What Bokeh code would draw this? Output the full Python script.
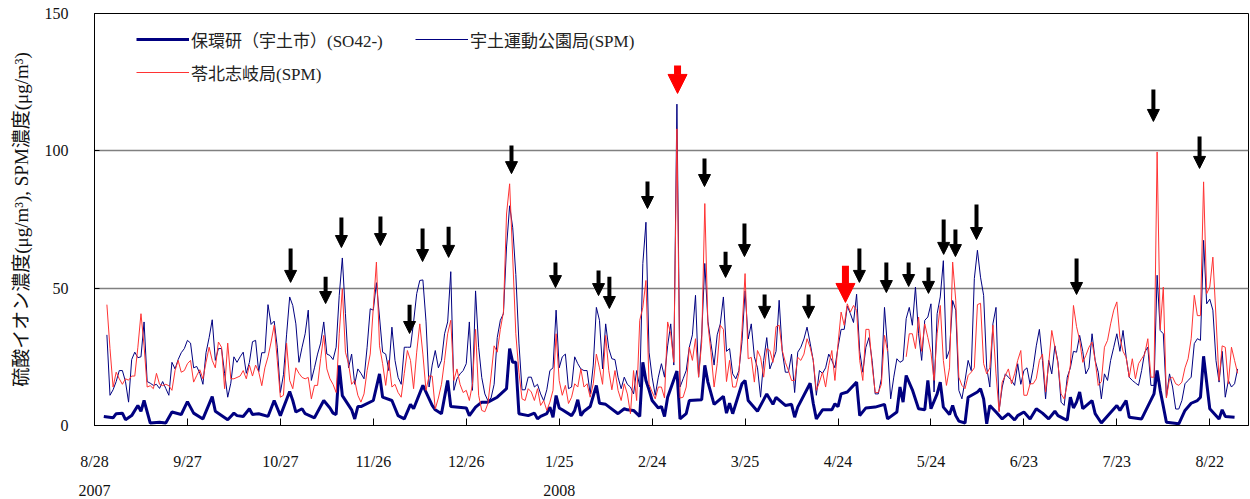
import numpy as np
from bokeh.plotting import figure
from bokeh.models import (Range1d, FixedTicker, LinearAxis, ColumnDataSource, Arrow,
                          NormalHead, Legend, LegendItem)
from bokeh.embed import file_html
from bokeh.resources import INLINE

nan = float("nan")

# ---------------- data ----------------
# x axis: days since 2007-08-28
tick_days = [0, 30, 60, 90, 120, 150, 180, 210, 240, 270, 300, 330, 360]
tick_labels = ["8/28", "9/27", "10/27", "11/26", "12/26", "1/25", "2/24",
               "3/25", "4/24", "5/24", "6/23", "7/23", "8/22"]
year_days = [0, 150]
year_labels = ["2007", "2008"]

series_names = ["保環研（宇土市）(SO42-)", "宇土運動公園局(SPM)", "苓北志岐局(SPM)"]

# daily SPM series start on day 4 (2007-08-31 .. 2008-08-31)
spm_first_day = 4

uto_spm = [
    33, 11, 13, 16, 20, 20, 16, 8.5, 24, 26.7,
    24.7, 25, 37.7, 16, 15.4, 14.6, 15, 13.5, 16, 13.5,
    11, 23, 20.6, 24, 26.5, 28, 31, 30, 21, 21.5,
    19, 15, 26.5, 32, 38.5, 23.7, 28, 28, 19, 10.3,
    15.4, 25, 23, 25, 26.7, 19, 23, 30.5, 31, 19.5,
    26.5, 26.5, 44, 36.8, 38, 28.5, 12, 18.5, 33, 46.8,
    43.7, 37, 23, 28.5, 33.4, 42, 16.4, 21, 26, 30,
    37.7, 26, 25.5, 24, 28.5, 47.4, 61, 40.7, 21, 26,
    15, 20.6, 19, 17, 28.5, 42.5, 42, 52, 39.5, 26.7,
    26, 20, 35.8, 23.7, 17.5, 15, 28.5, 28.5, 28.5, 37.7,
    48, 52.8, 53, 38, 14, 22, 27.3, 21, 23.7, 33.4,
    37.7, 56, 12.8, 17, 18.8, 20, 22.5, 37.7, 12.8, 49,
    28.5, 17.5, 11.5, 9, 10, 15, 32, 38.3, 40.7, 65,
    80, 72, 55, 30, 13, 13, 17.6, 17.6, 14, 15,
    11.5, 9, 13, 20, 21, 42, 21, 25, 26, 13.4,
    14, 25, 22.5, 20.6, 20, 20, 11.5, 22, 43, 38.3,
    20.6, 37, 28, 24.3, 24, 17.6, 13.4, 17.6, 15, 14,
    11.5, 20, 14, 59, 74, 26.7, 17.6, 11, 17.6, 22.5,
    17.6, 29, 37, 22, 117, 14, 17, 20, 28.5, 33,
    47.4, 17.6, 33, 59, 38, 29.8, 22, 33, 37, 46.8,
    27, 28, 18.8, 17, 20, 30.5, 49, 31.5, 37, 25,
    21, 10.3, 23.7, 32, 20.6, 23.7, 27, 45.6, 27, 19.4,
    19.4, 26, 12, 26.7, 28.5, 31.5, 35.8, 30, 23.7, 11,
    20, 19, 21, 26, 23.7, 21, 28.5, 35, 35, 43.5,
    40.7, 37.5, 47.8, 27, 19.4, 28.5, 32, 23.7, 11.5, 11.5,
    17, 43, 28, 9.7, 17.6, 24.3, 23, 23.7, 38.9, 43,
    36.5, 50.4, 33.4, 23.7, 38.3, 39.5, 44.3, 12.2, 40.7, 46.8,
    60, 24.3, 27.5, 45.5, 42, 12.8, 9.7, 16.4, 23.7, 20,
    53.5, 63.8, 54, 47.4, 21, 14, 37, 43, 5.5, 14,
    18.8, 17.6, 16.4, 14.6, 22.5, 15, 20, 21, 15, 21,
    29, 35, 23.7, 9.7, 23.7, 18.8, 29, 23, 8.5, 7.3,
    17.6, 21, 27, 26.7, 32.8, 27, 18.8, 21, 33.4, 23.7,
    19.4, 9.7, 18.8, 16.4, 23.7, 28.5, 33.4, 27, 34.6, 25,
    17.6, 16.4, 15.5, 14.6, 20, 26.7, 28.5, 14.6, 14.6, 54.7,
    34.6, 33.4, 10.3, 18.8, 14, 6, 6, 9.1, 15.2, 16.4,
    17.6, 29.8, 31.6, 31, 67.4, 44.3, 46, 42, 23.7, 15.8,
    27, 10.3, 16.4, 14, 15.2, 20.6,
]

reihoku_spm = [
    44, 28, 14, 19.4, 17, 15, 17, 16.5, 18, 18,
    28.5, 40.7, 29, 14, 14.5, 13.4, 19, 15, 14.5, 15,
    14.5, 12.8, 20, 23.7, 19.4, 20, 22.5, 23.7, 15.8, 18.2,
    20.3, 17, 23, 28.5, 23.7, 21, 30.4, 28.5, 13.4, 30,
    17, 17, 17.5, 18, 20, 17, 22, 18, 22, 19.5,
    14.5, 21, 25, 30.4, 36.5, 23.7, 10.3, 11, 30, 16.4,
    13.4, 21, 19, 17.5, 17, 17.5, 9.7, 14.6, 14.6, 24.3,
    32.8, 20.6, 17, 15, 12, 33.4, 49.8, 26.7, 22.5, 15,
    16.4, 11, 8.5, 11.5, 20, 26, 43, 59.5, 29, 22.5,
    14.6, 23.7, 14, 15, 12, 10.3, 19, 27.3, 23.7, 13.4,
    26.7, 37, 26, 12.8, 18, 18, 6, 10, 15, 23.7,
    33.4, 38.3, 16.4, 20.6, 15, 12, 12.8, 9.1, 15, 35,
    11, 5.5, 5, 8, 18, 29, 26.7, 35, 41.3, 77,
    88, 61, 33.4, 19.4, 9.7, 9.1, 13.4, 12.2, 9.1, 13.4,
    7.3, 9.1, 5.5, 8.5, 12.8, 33.4, 16.4, 11, 14.6, 8,
    10.3, 15.2, 14, 20.6, 14, 15.2, 10.3, 15.2, 26, 21,
    15, 32.8, 20, 13, 20, 12.8, 9.1, 15.2, 11.5, 4.3,
    20, 9.1, 38.3, 43, 52.8, 15, 12.2, 9.7, 14, 14,
    10, 37.7, 33.4, 23, 108, 10, 10.3, 14, 28.5, 23.7,
    31.6, 17.6, 30.4, 80.8, 37, 26.5, 14, 22.5, 36.5, 35,
    16, 23.7, 14, 14, 19, 34.6, 55.3, 24.3, 24.8, 15.8,
    27.3, 24.8, 17.6, 28, 27.3, 23, 36, 36.5, 27.3, 23,
    20, 16.4, 16.4, 24.8, 23.7, 26, 31.6, 28.5, 23.7, 12.8,
    15.8, 19.4, 14, 21.9, 27.3, 16.4, 29.8, 41.3, 36.5, 44.3,
    41.3, 43.7, 41.9, 23.7, 16.4, 35, 35, 22, 12, 12,
    15, 32.8, 27, nan, nan, nan, nan, nan, 25, 33.4,
    33.4, 28, 39.5, 27, 37, 32, 26.5, 16.4, 33.4, 43.7,
    23.7, 14.6, 21, 59.5, 45.6, 17.6, 14.6, 13.4, 18.2, 19.4,
    21, 44, 44.5, 22.5, 18.8, 21, 36.5, 18.8, 5, 15.8,
    18.2, 20.6, 15.2, 18.8, 23.7, 27.3, 11, 11, 15.2, 15.2,
    17, 23.7, 26, 12.2, 22.5, 34.6, 28.5, 22.5, 11.5, 9.7,
    15.2, 22, 43.7, 36, 31, 23, 25.5, 28.5, 30.4, 23.7,
    14.6, 16, 28.5, 31, 37, 42, 45, 32, 27, 24.8,
    17.6, 24.3, 17, 22.5, 24.3, 26, 31.6, 17.6, 17.6, 99.6,
    35, 50.4, 10, 17, 17.6, 15.2, 14.6, 15.8, 21, 24.3,
    31.6, 47.4, 40, 40, 88.7, 48, 50.4, 61.3, 39.5, 16.4,
    29, 28.5, 15.2, 28.5, 23.7, 19,
]

so4_days = [
    3, 6, 7, 9, 10, 12, 14, 15, 16, 18, 21, 23, 25, 28, 30, 32, 35, 38, 39, 43,
    44, 45, 46, 48, 50, 51, 53, 56, 58, 60, 63,
    64, 65, 67, 68, 71, 74, 76, 77, 78, 79, 80, 83, 84, 85, 86, 90, 92, 93, 96, 98,
    100, 102, 103, 106, 109, 110, 112, 114, 115, 120, 121, 123, 125,
    127, 130, 133, 134, 135, 136, 137, 140, 142, 143, 144, 146, 147, 148, 149, 150,
    151, 154, 155, 156, 157, 158, 160, 162, 163, 165, 169, 171, 172, 174,
    176, 177, 178, 179, 180, 182, 183, 184, 185, 188,
    189, 191, 192, 196, 197, 198, 200, 203, 204, 205, 206, 209, 210, 211, 214, 217,
    219, 220, 223, 225, 226, 227, 231, 232, 233, 235, 238, 239, 240, 241, 243, 246,
    247, 249, 252,
    255, 256, 259, 260, 261, 262, 264, 266, 268, 269, 270, 272, 273, 274, 276, 277,
    278, 279, 281, 282, 285, 286, 287, 288, 289, 291, 293, 295, 297, 298,
    300, 302, 304, 306, 308, 310, 311, 313, 314, 315, 316, 317, 318, 319, 322, 323,
    325, 330, 331, 333, 334, 338, 342, 343, 344, 346, 350, 352, 354, 356,
    357, 358, 360, 363, 364, 365, 368,
]
so4_vals = [
    3.3, 2.8, 4.3, 4.5, 2.1, 3.6, 7.3, 5.2, 9.1, 0.9, 1.2, 0.9, 4.9, 4.0, 8.7, 4.5, 2.4, 10.5, 5.2, 2.1,
    3.3, 4.5, 3.6, 3.3, 6.1, 4.0, 4.3, 3.3, 9.1, 3.6, 12.4,
    9.1, 4.9, 6.1, 4.3, 2.8, 9.1, 6.4, 4.5, 4.0, 21.9, 10.9, 5.7, 2.4, 6.9, 6.9, 9.1, 18.8, 10.3, 9.1, 3.6,
    2.4, 7.7, 6.1, 14.6, 7.3, 5.7, 4.3, 16.4, 6.9, 6.4, 3.6, 6.7, 8.5,
    8.5, 10.3, 13.4, 28, 23, 23, 4.3, 3.6, 4.5, 2.4, 3.3, 4.3, 6.7, 3.0, 10.9, 6.4,
    5.7, 3.6, 5.5, 9.4, 3.6, 5.2, 6.9, 14.6, 8.1, 7.7, 4.3, 6.1, 5.7, 5.5,
    3.3, 23, 16.4, 13, 9.1, 6.4, 6.9, 3.3, 10.3, 19.8,
    2.4, 4.3, 9.1, 9.4, 21.9, 15.8, 7.7, 10.6, 4.5, 8.1, 4.3, 15.2, 16.4, 9.1, 5.2, 11.5,
    7.7, 10.2, 7.3, 7.7, 3.0, 6.7, 15.4, 8.1, 2.4, 5.7, 5.7, 7.9, 6.9, 11.5, 12.2, 15.8,
    3.6, 6.4, 6.7,
    7.7, 2.4, 4.9, 14, 8.5, 18.2, 13, 6.1, 5.7, 16.4, 6.1, 11.5, 15.8, 6.7, 4.0, 7.3,
    3.6, 1.6, 0.9, 10.3, 12.2, 13.4, 9.7, 0.6, 7.3, 4.9, 2.4, 4.3, 2.0, 3.6,
    4.9, 2.4, 6.1, 4.5, 2.4, 5.2, 3.6, 2.4, 2.0, 10.3, 6.4, 8.5, 12.2, 6.1, 9.1, 4.3,
    0.9, 7.3, 5.5, 9.1, 3.0, 2.4, 11.5, 20, 12.8, 1.2, 0.6, 5.5, 8.1, 9.1,
    10.3, 25.2, 6.1, 2.4, 5.7, 3.3, 3.0,
]

# event arrows (day, arrow top value, arrow tip value)
arrow_days = [63.3, 74.6, 79.7, 92.3, 101.7, 105.9, 114.3, 134.6, 148.8, 162.7,
              166.2, 178.5, 196.9, 203.7, 209.8, 216.3, 230.5, 246.9, 255.6, 262.8,
              269.2, 274.1, 277.9, 284.7, 317.0, 341.8, 356.7]
arrow_top = [64.4, 54.2, 75.7, 76.1, 44.0, 71.7, 72.4, 101.9, 59.3, 56.4,
             54.2, 88.8, 97.2, 63.3, 73.5, 47.7, 47.7, 64.4, 59.3, 59.3,
             57.5, 75.0, 71.4, 80.5, 60.8, 122.3, 105.2]
arrow_tip = [52.1, 44.4, 64.8, 65.5, 33.5, 59.7, 61.2, 91.7, 50.2, 47.3,
             42.6, 79.0, 87.0, 53.9, 61.5, 39.0, 39.0, 52.1, 48.4, 50.6,
             48.1, 62.3, 61.5, 67.7, 47.7, 110.7, 93.6]
red_arrow_days = [188.2, 242.4]
red_arrow_top = [131.1, 58.2]
red_arrow_tip = [120.9, 44.8]

# ---------------- figure ----------------
FONT = "Liberation Serif, Noto Sans CJK JP"
NAVY = "#000080"
RED = "#ff3333"

p = figure(width=1250, height=499, output_backend="svg", toolbar_location=None,
           x_range=Range1d(0, 372.5), y_range=Range1d(0, 150),
           min_border_left=94, min_border_right=2, min_border_top=13, min_border_bottom=74)
p.background_fill_color = "white"
p.border_fill_color = "white"
p.outline_line_color = "black"
p.outline_line_width = 1

spm_days = list(range(spm_first_day, spm_first_day + len(uto_spm)))
red_days = list(range(spm_first_day, spm_first_day + len(reihoku_spm)))

src_so4 = ColumnDataSource(dict(x=so4_days, y=so4_vals))
src_uto = ColumnDataSource(dict(x=spm_days, y=np.array(uto_spm, dtype=float)))
src_rei = ColumnDataSource(dict(x=red_days, y=np.array(reihoku_spm, dtype=float)))

r_so4 = p.line("x", "y", source=src_so4, line_color=NAVY, line_width=3)
r_uto = p.line("x", "y", source=src_uto, line_color=NAVY, line_width=1)
r_rei = p.line("x", "y", source=src_rei, line_color=RED, line_width=1)

# arrows
src_arr = ColumnDataSource(dict(x=arrow_days, y0=arrow_top, y1=arrow_tip))
p.add_layout(Arrow(source=src_arr, x_start="x", y_start="y0", x_end="x", y_end="y1",
                   line_color="black", line_width=4,
                   end=NormalHead(size=12, fill_color="black", line_color="black", line_width=1)))
src_rarr = ColumnDataSource(dict(x=red_arrow_days, y0=red_arrow_top, y1=red_arrow_tip))
p.add_layout(Arrow(source=src_rarr, x_start="x", y_start="y0", x_end="x", y_end="y1",
                   line_color="red", line_width=7,
                   end=NormalHead(size=19, fill_color="red", line_color="red", line_width=1)))

# axes
xa = p.xaxis[0]
xa.ticker = FixedTicker(ticks=tick_days)
xa.major_label_overrides = {d: l for d, l in zip(tick_days, tick_labels)}
xa.major_tick_in = 7
xa.major_tick_out = 0
xa.minor_tick_line_color = None
xa.major_label_standoff = 27
xa.major_label_text_font = FONT
xa.major_label_text_font_size = "16px"
xa.major_label_text_color = "#111111"
xa.axis_line_color = "black"

ya2 = LinearAxis(ticker=FixedTicker(ticks=year_days),
                 major_label_overrides={d: l for d, l in zip(year_days, year_labels)},
                 axis_line_color=None, major_tick_line_color=None, minor_tick_line_color=None,
                 major_label_standoff=6, major_label_text_font=FONT,
                 major_label_text_font_size="16px", major_label_text_color="#111111")
p.add_layout(ya2, "below")

ya = p.yaxis[0]
ya.ticker = FixedTicker(ticks=[0, 50, 100, 150])
ya.major_tick_in = 5
ya.major_tick_out = 0
ya.minor_tick_line_color = None
ya.major_label_standoff = 26
ya.major_label_text_font = FONT
ya.major_label_text_font_size = "16px"
ya.major_label_text_color = "#111111"
ya.axis_label = "硫酸イオン濃度(μg/m³), SPM濃度(μg/m³)"
ya.axis_label_text_font = FONT
ya.axis_label_text_font_size = "19px"
ya.axis_label_text_font_style = "normal"
ya.axis_label_text_color = "#111111"
ya.axis_label_standoff = 10

p.xgrid.visible = False
p.ygrid.ticker = FixedTicker(ticks=[50, 100])
p.ygrid.grid_line_color = "#808080"
p.ygrid.grid_line_width = 1.5

# legends
common = dict(orientation="vertical", glyph_width=53, glyph_height=26, label_height=26,
              spacing=7, padding=0, margin=0, label_standoff=2,
              border_line_color=None, background_fill_alpha=0,
              label_text_font=FONT, label_text_font_size="17px", label_text_color="#222222")
leg1 = Legend(items=[LegendItem(label=series_names[0], renderers=[r_so4]),
                     LegendItem(label=series_names[2], renderers=[r_rei])],
              location=(42, 340), **common)
leg2 = Legend(items=[LegendItem(label=series_names[1], renderers=[r_uto])],
              location=(321, 373), **common)
p.add_layout(leg1)
p.add_layout(leg2)

open("out.html", "w").write(file_html(p, INLINE))
